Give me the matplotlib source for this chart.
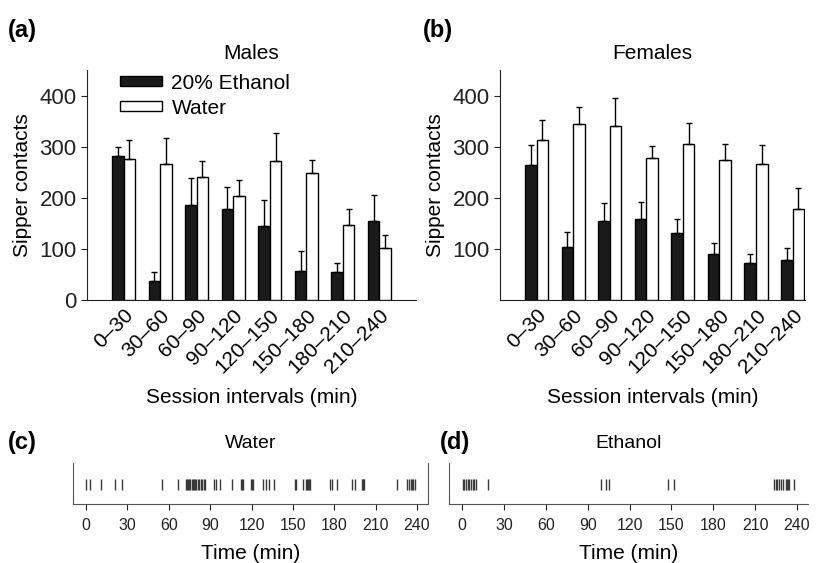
import matplotlib
matplotlib.use("Agg")
import matplotlib.pyplot as plt
from matplotlib.patches import Patch
import numpy as np

plt.rcParams['font.family'] = ['Liberation Sans', 'DejaVu Sans']

intervals = ["0–30", "30–60", "60–90", "90–120", "120–150", "150–180", "180–210", "210–240"]

male_ethanol = [282, 38, 186, 178, 144, 56, 55, 155]
male_ethanol_err = [17, 17, 52, 43, 52, 40, 18, 50]
male_water = [276, 266, 241, 203, 271, 249, 146, 101]
male_water_err = [37, 51, 31, 31, 55, 24, 32, 26]

female_ethanol = [265, 104, 154, 158, 132, 90, 73, 79]
female_ethanol_err = [38, 30, 35, 34, 26, 22, 17, 22]
female_water = [314, 345, 340, 278, 306, 273, 266, 178]
female_water_err = [39, 32, 56, 23, 41, 32, 37, 41]

water_licks = [0, 2.7, 10.9, 20.8, 26.4, 55.2, 67,
               72.2, 73.2, 74.0, 74.8, 75.6, 76.6, 77.4, 78.2, 79.0, 79.9,
               81.0, 82.0, 83.2, 84.2, 85.2, 86.0,
               92.5, 94.4, 97.3, 105.6, 112.6, 113.2, 113.8, 119.4, 120.2, 121.0,
               128.4, 130.8, 132.7, 136.3, 151.4, 152.6, 157.0,
               159.4, 160.2, 161.0, 161.6, 162.3,
               176.8, 178.7, 181.7, 193.0, 195.0, 199.9, 200.5, 201.0, 201.5,
               225.3, 233.0, 234.2, 235.4, 236.4, 237.4, 238.6]
ethanol_licks = [0.3, 1.5, 2.7, 3.9, 5.0, 6.2, 7.4, 8.6, 9.8, 18.8,
                 99.5, 103.3, 105.0, 147.4, 151.9,
                 223.4, 224.7, 226.0, 227.3, 228.6, 230.0,
                 232.4, 233.0, 233.7, 234.3, 238.1]
time_ticks = [0, 30, 60, 90, 120, 150, 180, 210, 240]

W, H = 818, 563
fig = plt.figure(figsize=(W / 100, H / 100), dpi=100)

def fx(px):
    return px / W

def fy(py):
    return 1 - py / H

def bar_panel(rect, eth, eth_err, wat, wat_err, title, xmax, show_zero, legend):
    ax = fig.add_axes(rect)
    x = np.arange(len(intervals))
    bw = 0.315
    ax.bar(x - bw / 2, eth, bw, color='#1a1a1a', edgecolor='black', linewidth=1,
           yerr=[np.zeros(len(eth)), eth_err],
           error_kw=dict(ecolor='black', elinewidth=1, capsize=2.5, capthick=1),
           label='20% Ethanol', zorder=3)
    ax.bar(x + bw / 2, wat, bw, color='white', edgecolor='black', linewidth=1,
           yerr=[np.zeros(len(wat)), wat_err],
           error_kw=dict(ecolor='black', elinewidth=1, capsize=2.5, capthick=1),
           label='Water', zorder=3)
    ax.set_xlim(-1, xmax)
    ax.set_ylim(0, 450)
    ax.spines['top'].set_visible(False)
    ax.spines['right'].set_visible(False)
    ax.spines['left'].set_color('#222')
    ax.spines['bottom'].set_color('#222')
    ax.set_xticks(x)
    ax.set_xticklabels(intervals, rotation=45, ha='right', rotation_mode='anchor', fontsize=15)
    ax.tick_params(axis='x', length=0, pad=4)
    if show_zero:
        ax.set_yticks([0, 100, 200, 300, 400])
    else:
        ax.set_yticks([100, 200, 300, 400])
    ax.tick_params(axis='y', direction='out', length=4, labelsize=16, colors='#222')
    ax.set_ylabel('Sipper contacts', fontsize=15, labelpad=5)
    ax.set_xlabel('Session intervals (min)', fontsize=15, labelpad=8)
    ax.set_title(title, fontsize=15, pad=8)
    if legend:
        handles = [Patch(facecolor='#1a1a1a', edgecolor='black', label='20% Ethanol'),
                   Patch(facecolor='white', edgecolor='black', label='Water')]
        ax.legend(handles=handles, loc='upper left', bbox_to_anchor=(0.07, 1.03),
                  frameon=False, fontsize=15, handlelength=2.0, handleheight=0.35,
                  handletextpad=0.45, labelspacing=0.3, borderpad=0)
    return ax

bar_panel([fx(87), fy(300), fx(416 - 87), fy(70) - fy(300)],
          male_ethanol, male_ethanol_err, male_water, male_water_err,
          'Males', 8, True, True)
bar_panel([fx(500), fy(300), fx(805 - 500), fy(70) - fy(300)],
          female_ethanol, female_ethanol_err, female_water, female_water_err,
          'Females', 7.34, False, False)

def raster_panel(rect, times, title, right_spine):
    ax = fig.add_axes(rect)
    ax.vlines(times, 0.34, 0.61, colors='#3a3a3a', linewidth=1)
    ax.set_xlim(-9.5, 248)
    ax.set_ylim(0, 1)
    ax.set_yticks([])
    ax.set_xticks(time_ticks)
    ax.tick_params(axis='x', direction='out', length=4, pad=6, labelsize=11.5, colors='#222')
    ax.spines['top'].set_visible(False)
    ax.spines['right'].set_visible(right_spine)
    for s in ('left', 'bottom', 'right'):
        ax.spines[s].set_color('#555')
    ax.set_xlabel('Time (min)', fontsize=15, labelpad=8)
    ax.set_title(title, fontsize=14, pad=11)
    return ax

raster_panel([fx(73), fy(504), fx(428 - 73), fy(463) - fy(504)], water_licks, 'Water', True)
raster_panel([fx(449), fy(504), fx(808 - 449), fy(463) - fy(504)], ethanol_licks, 'Ethanol', False)

for lbl, px, py in [('(a)', 8, 31), ('(b)', 423, 31), ('(c)', 8, 443), ('(d)', 440, 443)]:
    fig.text(fx(px), fy(py), lbl, fontsize=17, fontweight='bold', ha='left', va='center')

fig.savefig('out.png', dpi=100)
